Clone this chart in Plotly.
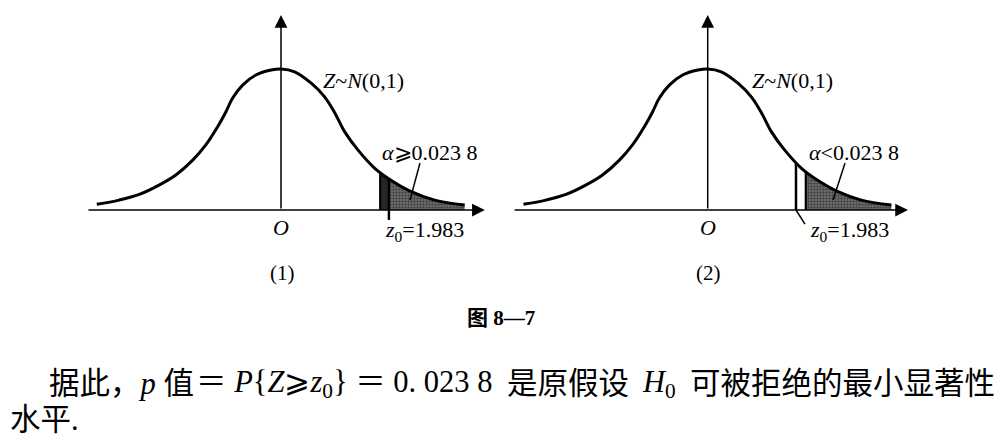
import numpy as np
import plotly.graph_objects as go

# ---------------- data ----------------
z_curve = [-3.38, -2.97, -2.60, -2.23, -1.93, -1.62, -1.38, -1.16, -1.01, -0.89, -0.70,
           -0.46, -0.18, 0.0, 0.25, 0.56, 0.80, 0.99, 1.17, 1.41, 1.72, 1.96, 2.39, 2.82, 3.37]
density = [0.016, 0.028, 0.044, 0.071, 0.099, 0.141, 0.184, 0.236, 0.278, 0.316, 0.354,
           0.382, 0.396, 0.399, 0.391, 0.358, 0.320, 0.274, 0.221, 0.170, 0.118, 0.090, 0.052, 0.028, 0.014]

panel_labels = ["(1)", "(2)"]
z0_text = "<i>z</i><sub>0</sub>=1.983"
z0_pos = [1.98, 1.62]          # drawn position of z0 (schematic figure)
alpha_start = [1.82, 1.80]     # left edge of the shaded rejection region
alpha_labels = ["<i>α</i>⩾0.023 8", "<i>α</i>&lt;0.023 8"]
dist_label = "<i>Z</i>~<i>N</i>(0,1)"
caption = "<b>图 8—7</b>"
body_a = "据此，<i>p</i> 值"
body_b = "＝ <i>P</i>{<i>Z</i>⩾<i>z</i><sub>0</sub>} ＝ 0. 023 8"
body_d = "是原假设"
body_e = "<i>H</i><sub>0</sub>"
body_f = "可被拒绝的最小显著性"
body_line2 = "水平."

# ---------------- layout constants ----------------
W, H = 1002, 446
OFF = 8                       # page body margin in the browser
UX, UY = 54.5, 353.5          # px per unit
AXIS_Y = 210
CENTERS = [281.0, 707.7]
SPLIT = 501.0
SERIF = "Liberation Serif, Noto Sans CJK SC, serif"
CJK = "Liberation Serif, Noto Sans CJK SC, sans-serif"

def curve_at(z):
    return float(np.interp(z, z_curve, density))

def px(x, y):
    return (x - OFF) / W, 1 - (y - OFF) / H

fig = go.Figure()
shapes, annos = [], []

def txt(t, x, y, size=22, anchor="center", fam=SERIF):
    xp, yp = px(x, y)
    annos.append(dict(text=t, x=xp, y=yp, xref="paper", yref="paper", showarrow=False,
                      xanchor=anchor, yanchor="middle",
                      font=dict(family=fam, size=size, color="black")))

for i in range(2):
    xa = "x" if i == 0 else "x2"
    ya = "y" if i == 0 else "y2"
    a0 = alpha_start[i]
    # shaded tail
    tx = [a0] + [z for z in z_curve if z > a0]
    ty = [curve_at(a0)] + [d for z, d in zip(z_curve, density) if z > a0]
    fig.add_trace(go.Scatter(x=tx, y=ty, xaxis=xa, yaxis=ya, mode="lines",
                             line=dict(width=0, shape="spline"), fill="tozeroy",
                             fillcolor="#5a5a5a",
                             fillpattern=dict(shape=".", fgcolor="#111111", bgcolor="#747474",
                                              size=3, solidity=0.5),
                             hoverinfo="skip", showlegend=False))
    if z0_pos[i] > a0:
        sx = [a0, (a0 + z0_pos[i]) / 2, z0_pos[i]]
        sy = [curve_at(v) for v in sx]
        fig.add_trace(go.Scatter(x=sx, y=sy, xaxis=xa, yaxis=ya, mode="lines",
                                 line=dict(width=0), fill="tozeroy", fillcolor="#262626",
                                 hoverinfo="skip", showlegend=False))
    # density curve
    fig.add_trace(go.Scatter(x=z_curve, y=density, xaxis=xa, yaxis=ya, mode="lines",
                             line=dict(color="black", width=3, shape="spline"),
                             hoverinfo="skip", showlegend=False))
    # rejection region edge
    shapes.append(dict(type="line", xref=xa, yref=ya, x0=a0, x1=a0, y0=0, y1=curve_at(a0),
                       line=dict(color="black", width=2.2)))
    # z0 line
    z0 = z0_pos[i]
    if i == 0:
        shapes.append(dict(type="line", xref=xa, yref=ya, x0=z0, x1=z0, y0=-0.028, y1=curve_at(z0),
                           line=dict(color="black", width=2.5)))
    else:
        shapes.append(dict(type="line", xref=xa, yref=ya, x0=z0, x1=z0, y0=0, y1=curve_at(z0),
                           line=dict(color="black", width=2.5)))
        shapes.append(dict(type="line", xref=xa, yref=ya, x0=z0, x1=z0 + 0.165, y0=0, y1=-0.04,
                           line=dict(color="black", width=1.5)))
    # alpha leader
    lx0, lx1 = (2.55, 2.367) if i == 0 else (2.52, 2.30)
    shapes.append(dict(type="line", xref=xa, yref=ya, x0=lx0, x1=lx1, y0=0.133, y1=0.028,
                       line=dict(color="black", width=1.5)))
    # axes with arrows
    xl, xr = (-3.56, 3.74) if i == 0 else (-3.57, 3.675)
    annos.append(dict(x=xr, y=0, ax=xl, ay=0, xref=xa, yref=ya, axref=xa, ayref=ya, text="",
                      showarrow=True, arrowhead=2, arrowsize=1.7, arrowwidth=1.5,
                      arrowcolor="black", standoff=0, startstandoff=0))
    annos.append(dict(x=0, y=0.5516, ax=0, ay=0, xref=xa, yref=ya, axref=xa, ayref=ya, text="",
                      showarrow=True, arrowhead=2, arrowsize=1.7, arrowwidth=1.5,
                      arrowcolor="black", standoff=0, startstandoff=0))
    c = CENTERS[i]
    txt(dist_label, c + (82 if i == 0 else 85), 80)
    txt(alpha_labels[i], c + (149 if i == 0 else 146), 152)
    txt("<i>O</i>", c, 227, size=22)
    txt(z0_text, c + (143 if i == 0 else 142), 231)
    txt(panel_labels[i], c + 1, 273, size=21)

txt(caption, 501, 318, size=21, fam=CJK)
txt(body_a, 47, 384, size=30.5, anchor="left", fam=CJK)
txt(body_b, 494, 384, size=30.5, anchor="right", fam=CJK)
txt(body_d, 505, 384, size=30.5, anchor="left", fam=CJK)
txt(body_e, 640, 384, size=30.5, anchor="left", fam=CJK)
txt(body_f, 688, 384, size=30.5, anchor="left", fam=CJK)
txt(body_line2, 8, 420, size=30.5, anchor="left", fam=CJK)

yr = [-(H + OFF - AXIS_Y) / UY, (AXIS_Y - OFF) / UY]
ax_common = dict(visible=False, showgrid=False, zeroline=False, fixedrange=True)
s = SPLIT - OFF
fig.update_layout(
    width=W, height=H, margin=dict(l=0, r=0, t=0, b=0),
    paper_bgcolor="white", plot_bgcolor="white", showlegend=False,
    xaxis=dict(domain=[0, s / W], range=[(OFF - CENTERS[0]) / UX, (SPLIT - CENTERS[0]) / UX], **ax_common),
    xaxis2=dict(domain=[s / W, 1], range=[(SPLIT - CENTERS[1]) / UX, (W + OFF - CENTERS[1]) / UX], **ax_common),
    yaxis=dict(domain=[0, 1], range=yr, anchor="x", **ax_common),
    yaxis2=dict(domain=[0, 1], range=yr, anchor="x2", **ax_common),
    shapes=shapes, annotations=annos,
)
fig.write_html("out.html")
